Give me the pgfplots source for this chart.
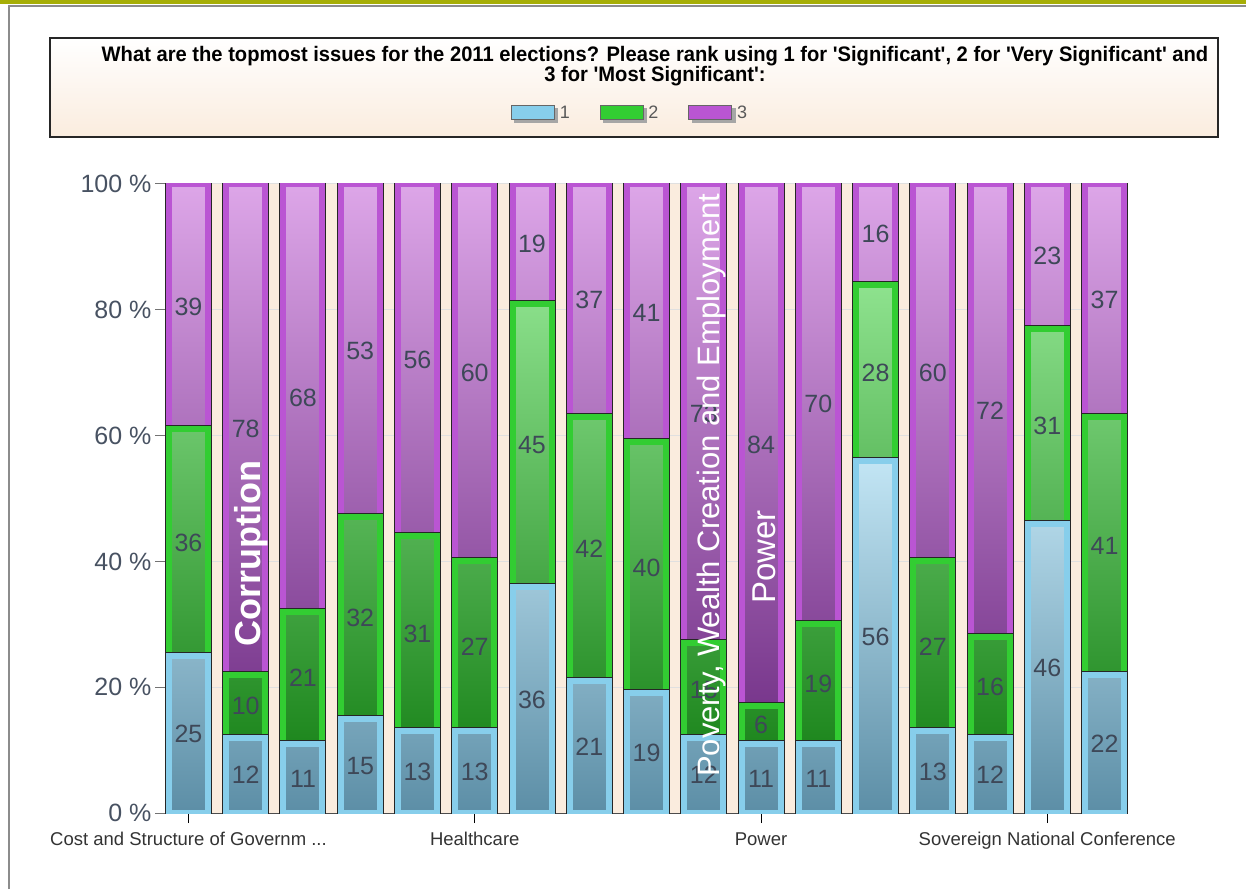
\documentclass[border=0pt]{standalone}
\usepackage{pgfplots}
\pgfplotsset{compat=1.18}
\usepackage{pgfplotstable}
\usepackage{fontspec}
\setmainfont{Liberation Sans}
\newfontfamily\titlefont[FakeStretch=0.96]{Liberation Sans}

\definecolor{skyb}{RGB}{135,206,235}
\definecolor{skybL}{RGB}{194,229,244}
\definecolor{skybD}{RGB}{92,142,166}
\definecolor{lgreen}{RGB}{50,205,50}
\definecolor{lgreenL}{RGB}{142,226,142}
\definecolor{lgreenD}{RGB}{30,135,30}
\definecolor{orch}{RGB}{186,85,211}
\definecolor{orchL}{RGB}{221,166,232}
\definecolor{orchD}{RGB}{120,55,140}
\definecolor{labelc}{RGB}{62,72,88}
\definecolor{tickc}{RGB}{72,82,98}
\definecolor{gapc}{RGB}{250,236,222}
\definecolor{olivebar}{RGB}{166,174,6}

% share of answers per issue: a = 1, b = 2, c = 3 (ch = drawn height of c)
\pgfplotstableread{
x a b c ch
0 25 36 39 39
1 12 10 78 78
2 11 21 68 68
3 15 32 53 53
4 13 31 56 56
5 13 27 60 60
6 36 45 19 19
7 21 42 37 37
8 19 40 41 41
9 12 15 73 73
10 11 6 84 83
11 11 19 70 70
12 56 28 16 16
13 13 27 60 60
14 12 16 72 72
15 46 31 23 23
16 22 41 37 37
}\issues

% bar segment: black rim, base-colour band, shaded inside
\pgfplotsset{
  seg/.style n args={3}{
    preaction={draw=black!85, line width=8pt},
    draw=#2, line width=6pt,
    top color=#1, middle color=#2, bottom color=#3,
  },
  legbox/.style={legend image code/.code={
      \fill[black!35] (3pt,-9pt) rectangle (46pt,5pt);
      \filldraw[draw=black!60, fill=#1, line width=0.8pt] (0pt,-7pt) rectangle (43pt,7pt);
  }},
}

\begin{document}
\begin{tikzpicture}[x=1pt,y=1pt]
\useasboundingbox (0,0) rectangle (1246,889);
\fill[white] (0,0) rectangle (1246,889);
\fill[olivebar] (0,885) rectangle (1246,889);
\draw[black!45, line width=2] (8.5,0) -- (8.5,882.5) -- (1246,882.5);
\shade[top color=white, bottom color=gapc] (50,752) rectangle (1218,851);
\draw[black!85, line width=2] (50,752) rectangle (1218,851);
\node[align=center, font=\titlefont\bfseries\fontsize{21}{18}\selectfont] at (655,823)
  {What are the topmost issues for the 2011 elections? Please rank using 1 for 'Significant', 2 for 'Very Significant' and\\3 for 'Most Significant':};

\begin{axis}[
  at={(165pt,76pt)}, anchor=south west,
  scale only axis, width=963pt, height=629pt,
  ybar stacked, bar width=39pt,
  xmin=-0.41, xmax=16.41, ymin=0, ymax=100,
  axis x line*=bottom, axis y line*=left,
  x axis line style={black!70, line width=1pt},
  y axis line style={black!80, line width=1pt},
  tick align=outside, major tick length=10pt,
  xtick={0,5,10,15},
  xticklabels={{Cost and Structure of Governm .{}.{}.}, Healthcare, Power, Sovereign National Conference},
  ytick={0,20,40,60,80,100},
  yticklabels={0 \%,20 \%,40 \%,60 \%,80 \%,100 \%},
  x tick style={black, line width=1pt},
  y tick style={black!55, line width=1pt},
  xticklabel style={font=\fontsize{18.5}{18.5}\selectfont, text=black!80, yshift=-6pt},
  yticklabel style={font=\fontsize{25}{25}\selectfont, text=tickc},
  ymajorgrids, grid style={black!12, line width=1pt},
  axis background/.style={fill=gapc},
  /pgf/number format/assume math mode=true,
  nodes near coords={\pgfmathprintnumber{\rawy}},
  every node near coord/.append style={font=\fontsize{25}{25}\selectfont, text=labelc, anchor=center},
  legend style={at={(0.483,1.113)}, anchor=center, draw=none, fill=none,
    legend columns=3, font=\fontsize{18}{18}\selectfont, text=black!65,
    /tikz/every even column/.append style={column sep=28pt}},
]
\addlegendimage{legbox=skyb}
\addlegendentry{1}
\addlegendimage{legbox=lgreen}
\addlegendentry{2}
\addlegendimage{legbox=orch}
\addlegendentry{3}

\addplot[seg={skybL}{skyb}{skybD}, forget plot,
  visualization depends on={\thisrow{a} \as \rawy}] table[x=x,y=a]{\issues};
\addplot[seg={lgreenL}{lgreen}{lgreenD}, forget plot,
  visualization depends on={\thisrow{b} \as \rawy}] table[x=x,y=b]{\issues};
\addplot[seg={orchL}{orch}{orchD}, forget plot,
  visualization depends on={\thisrow{c} \as \rawy}] table[x=x,y=ch]{\issues};

\coordinate (corr) at (axis cs:1.1,41.2);
\coordinate (pov) at (axis cs:9.14,52.1);
\coordinate (pow) at (axis cs:10.06,40.7);
\end{axis}
\node[rotate=90, text=white, font=\bfseries\fontsize{36}{36}\selectfont] at (corr) {Corruption};
\node[rotate=90, text=white, font=\fontsize{31}{31}\selectfont] at (pov) {Poverty, Wealth Creation and Employment};
\node[rotate=90, text=white, font=\fontsize{33}{33}\selectfont] at (pow) {Power};
\end{tikzpicture}
\end{document}
